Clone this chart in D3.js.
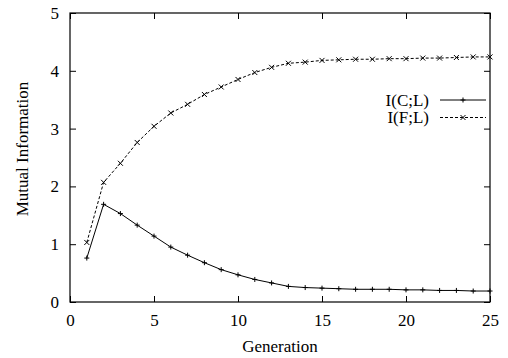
<!DOCTYPE html>
<html>
<head>
<meta charset="utf-8">
<script src="https://cdn.jsdelivr.net/npm/d3@7"></script>
</head>
<body style="margin:0; background:#fff;">
<svg id="drawing_region"></svg>
<script>
const generations = d3.range(1, 26);
const icl = [0.76, 1.69, 1.53, 1.33, 1.14, 0.95, 0.81, 0.68, 0.56, 0.47, 0.39, 0.33, 0.27, 0.25, 0.24,
             0.23, 0.22, 0.22, 0.22, 0.21, 0.21, 0.20, 0.20, 0.19, 0.19];
const ifl = [1.03, 2.07, 2.40, 2.76, 3.04, 3.27, 3.42, 3.59, 3.72, 3.85, 3.97, 4.06, 4.13, 4.15, 4.18,
             4.19, 4.20, 4.20, 4.21, 4.21, 4.22, 4.22, 4.23, 4.24, 4.24];
const seriesNames = ["I(C;L)", "I(F;L)"];
const xTicks = [0, 5, 10, 15, 20, 25];
const yTicks = [0, 1, 2, 3, 4, 5];

const FONT = 'Liberation Serif';
const FSIZE = 17;

const config = {
    width: 508,
    height: 358,
    margin: {top: 13, right: 18, bottom: 56, left: 70}
};

const svg = d3.select('#drawing_region')
    .attr('width', config.width)
    .attr('height', config.height);

const w = config.width - config.margin.left - config.margin.right;
const h = config.height - config.margin.top - config.margin.bottom;

const g = svg.append('g')
    .attr('transform', `translate(${config.margin.left}, ${config.margin.top})`);

const xscale = d3.scaleLinear().domain([0, 25]).range([0, w]);
const yscale = d3.scaleLinear().domain([0, 5]).range([h, 0]);

// axes: ticks pointing inward, mirrored on top/right
const tick = 6;
const fmt = d3.format('d');
function clean(a) {
    a.select('.domain').remove();
    a.attr('font-family', null).attr('font-size', null);
    a.selectAll('.tick line').attr('stroke', '#000');
    a.selectAll('.tick text')
        .attr('fill', '#000')
        .attr('font-family', FONT)
        .attr('font-size', FSIZE);
}
g.append('g')
    .attr('transform', `translate(0, ${h})`)
    .call(d3.axisBottom(xscale).tickValues(xTicks).tickFormat(fmt).tickSizeInner(-tick).tickSizeOuter(0).tickPadding(12))
    .call(clean);
g.append('g')
    .call(d3.axisTop(xscale).tickValues(xTicks).tickSizeInner(-tick).tickSizeOuter(0).tickFormat(''))
    .call(clean);
g.append('g')
    .call(d3.axisLeft(yscale).tickValues(yTicks).tickFormat(fmt).tickSizeInner(-tick).tickSizeOuter(0).tickPadding(11))
    .call(clean);
g.append('g')
    .attr('transform', `translate(${w}, 0)`)
    .call(d3.axisRight(yscale).tickValues(yTicks).tickSizeInner(-tick).tickSizeOuter(0).tickFormat(''))
    .call(clean);

g.append('rect')
    .attr('width', w)
    .attr('height', h)
    .attr('fill', 'none')
    .attr('stroke', '#000')
    .attr('stroke-width', 1.2);

const line = d3.line()
    .x(d => xscale(d.x))
    .y(d => yscale(d.y));

const data1 = generations.map((x, i) => ({x: x, y: icl[i]}));
const data2 = generations.map((x, i) => ({x: x, y: ifl[i]}));

function plus(sel, s) {
    sel.append('path')
        .attr('d', `M${-s},0H${s}M0,${-s}V${s}`)
        .attr('stroke', '#000')
        .attr('stroke-width', 1);
}
function cross(sel, s) {
    sel.append('path')
        .attr('d', `M${-s},${-s}L${s},${s}M${-s},${s}L${s},${-s}`)
        .attr('stroke', '#000')
        .attr('stroke-width', 1);
}

g.append('path')
    .datum(data1)
    .attr('d', line)
    .attr('fill', 'none')
    .attr('stroke', '#000')
    .attr('stroke-width', 1);

g.append('path')
    .datum(data2)
    .attr('d', line)
    .attr('fill', 'none')
    .attr('stroke', '#000')
    .attr('stroke-width', 1)
    .attr('stroke-dasharray', '3,2');

g.selectAll('.m1')
    .data(data1)
    .enter()
    .append('g')
    .attr('transform', d => `translate(${xscale(d.x)}, ${yscale(d.y)})`)
    .each(function() { plus(d3.select(this), 2.5); });

g.selectAll('.m2')
    .data(data2)
    .enter()
    .append('g')
    .attr('transform', d => `translate(${xscale(d.x)}, ${yscale(d.y)})`)
    .each(function() { cross(d3.select(this), 2.5); });

// legend
const legendX = 359, legendY = 87;
seriesNames.forEach((name, i) => {
    const ly = legendY + i * 17.5;
    g.append('text')
        .attr('x', legendX)
        .attr('y', ly)
        .attr('dy', '0.35em')
        .attr('text-anchor', 'end')
        .attr('font-family', FONT)
        .attr('font-size', FSIZE)
        .attr('fill', '#000')
        .text(name);
    g.append('line')
        .attr('x1', legendX + 11)
        .attr('x2', legendX + 57)
        .attr('y1', ly)
        .attr('y2', ly)
        .attr('stroke', '#000')
        .attr('stroke-width', 1)
        .attr('stroke-dasharray', i === 0 ? null : '3,2');
    const m = g.append('g').attr('transform', `translate(${legendX + 34}, ${ly})`);
    if (i === 0) plus(m, 2.5); else cross(m, 2.5);
});

// axis labels
svg.append('text')
    .attr('x', 280)
    .attr('y', 352)
    .attr('text-anchor', 'middle')
    .attr('font-family', FONT)
    .attr('font-size', FSIZE)
    .attr('fill', '#000')
    .text('Generation');

svg.append('text')
    .attr('transform', 'translate(28, 149) rotate(-90)')
    .attr('text-anchor', 'middle')
    .attr('font-family', FONT)
    .attr('font-size', FSIZE)
    .attr('fill', '#000')
    .text('Mutual Information');
</script>
</body>
</html>
